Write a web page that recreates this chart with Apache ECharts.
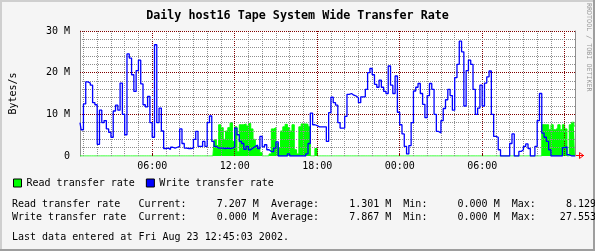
<!DOCTYPE html>
<html><head><meta charset="utf-8">
<script src="https://cdn.jsdelivr.net/npm/echarts@6/dist/echarts.min.js"></script>
<style>html,body{margin:0;padding:0;background:#f5f5f5;}#c{width:595px;height:251px;}</style>
</head><body><div id="c"></div>
<script>
const titleText = 'Daily host16 Tape System Wide Transfer Rate';
const startHour = 0.75;          // 00:45 on day 1
const stepHours = 1 / 6;         // 10 minute samples
const endHour = 36.75;           // 12:45 on day 2
const xTickHours = [6, 12, 18, 24, 30];
const xTickLabels = ['06:00', '12:00', '18:00', '00:00', '06:00'];
const yTickValues = [0, 10, 20, 30];
const yTickLabels = ['0', '10 M', '20 M', '30 M'];
const seriesNames = ['Read transfer rate', 'Write transfer rate'];
const seriesColors = ['#00ff00', '#0000ff'];

const readRate = [
  0,0,0,0,0,0,0,0,0,0, 0,0,0,0,0,0,0,0,0,0, 0,0,0,0,0,0,0,0,0,0,
  0,0,0,0,0,0,0,0,0,0, 0,0,0,0,0,0,0,0,0,0, 0,0,0,0,0,0,0,0,0,
  3.9,2.5,7.5,6.8,4.0,6.0,6.8,8.0,3.5,7.0,1.0,
  7.5,7.5,7.7,7.2,7.8,6.5,4.0,2.3,2.0,0.8,
  0,0,0,0.5,6.5,6.8,3.0,2.0,6.0,7.0,
  7.6,6.8,6.0,7.5,1.5,0.5,7.0,7.7,7.7,7.6,
  7.0,0,0,1.8,
  0,0,0,0,0,0,0,0,0,0, 0,0,0,0,0,0,0,0,0,0, 0,0,0,0,0,0,0,0,0,0,
  0,0,0,0,0,0,0,0,0,0, 0,0,0,0,0,0,0,0,0,0, 0,0,0,0,0,0,0,0,0,0,
  0,0,0,0,0,0,0,0,0,0, 0,0,0,0,0,0,0,0,0,0, 0,0,0,0,0,0,0,0,0,0,
  0,0,0,0,0,0,0,0,
  7.5,7.5,7.5,6.3,7.5,6.3,6.7,7.5,6.3,7.5,6.5,
  0,7.5,8.1,7.2
];

const writeRate = [
  8.0,6.3,12.5,17.8,17.5,17.0,12.8,12.3,2.8,11.0,
  8.0,8.5,6.5,5.7,4.5,10.8,12.2,11.0,17.5,10.0,
  5.1,24.5,23.5,19.5,15.5,20.5,23.0,17.3,12.3,11.8,
  14.3,8.0,4.5,26.7,8.0,11.5,6.0,1.8,1.9,1.6,
  2.1,1.9,2.1,2.3,6.5,3.0,1.9,1.8,1.8,1.9,
  4.0,5.9,2.3,2.3,3.5,2.3,8.0,9.6,3.5,2.3,
  1.9,1.9,1.9,1.8,1.9,1.8,1.9,2.1,6.7,5.1,
  3.5,3.0,1.6,2.3,1.5,1.9,2.3,2.6,1.8,4.7,
  2.2,2.7,1.5,1.1,1.0,1.9,3.4,0,0,0,
  0,0.5,0,0,0,0,0,0,0,0.5,
  3.0,10.3,7.5,7.3,7.0,7.0,7.0,7.0,3.5,10.4,
  14.1,12.8,12.2,8.0,6.7,6.7,9.5,14.8,15.0,14.6,
  14.4,14.0,12.8,14.2,14.2,16.0,20.0,21.0,19.5,17.2,
  16.5,18.2,16.5,15.5,15.0,21.6,17.0,15.0,19.2,10.5,
  7.5,5.3,2.3,0.5,2.5,8.0,15.6,16.5,17.4,15.0,
  12.4,9.2,14.5,17.4,16.0,10.0,5.9,5.5,8.5,11.4,
  13.5,16.0,14.5,11.0,18.8,22.0,27.55,25.0,12.0,20.5,
  23.0,22.0,16.0,10.0,11.5,17.0,12.0,17.5,19.0,20.4,
  10.0,4.7,4.5,1.5,0,0,0,0,3.0,5.3,
  0,0,1.1,1.5,2.3,2.9,1.8,0,0,2.3,
  8.5,15.0,5.5,4.5,3.5,1.5,0,0,0,0,
  0,2.0,2.2,0.3,0,0,0
];

const statCurrent = [7.207, 0.000];
const statAverage = [1.301, 7.867];
const statMin = [0.000, 0.000];
const statMax = [8.129, 27.553];
const lastUpdate = 'Last data entered at Fri Aug 23 12:45:03 2002.';
const credit = 'RRDTOOL / TOBI OETIKER';

const FONT = '"DejaVu Sans Mono", monospace';
const sampleHours = readRate.map((_, i) => startHour + i * stepHours);
const readData = readRate.map((v, i) => [sampleHours[i], v]);
const writeData = writeRate.map((v, i) => [sampleHours[i], v]);

function fmt(v) { return (v.toFixed(3) + ' M').padStart(12); }
const statRows = seriesNames.map((n, k) =>
  n.padEnd(21) + 'Current:' + fmt(statCurrent[k]) + '  Average:' + fmt(statAverage[k]) +
  '  Min:' + fmt(statMin[k]) + '  Max:' + fmt(statMax[k]));

const gridLines = [];
for (let h = Math.ceil(startHour); h <= Math.floor(endHour); h++) {
  const major = h % 6 === 0;
  gridLines.push({ xAxis: h, lineStyle: { color: major ? '#800000' : '#8f8f8f', type: [1, 1], width: 1 } });
}
for (let v = 2; v <= 30; v += 2) {
  const major = v % 10 === 0;
  gridLines.push({ yAxis: v, lineStyle: { color: major ? '#800000' : '#8f8f8f', type: [1, 1], width: 1 } });
}

const chart = echarts.init(document.getElementById('c'), null, { renderer: 'canvas' });
chart.setOption({
  backgroundColor: '#f5f5f5',
  animation: false,
  title: {
    text: titleText, left: 'center', top: 9, padding: 0,
    textStyle: { fontFamily: FONT, fontSize: 11.7, fontWeight: 'bold', color: '#000', lineHeight: 14 }
  },
  legend: {
    left: 13, top: 178, padding: 0, itemWidth: 8, itemHeight: 8, itemGap: 11, icon: 'rect',
    selectedMode: false,
    textStyle: { fontFamily: FONT, fontSize: 10, color: '#000' },
    data: seriesNames.map((n, k) => ({ name: n, itemStyle: { color: seriesColors[k], borderColor: '#000', borderWidth: 1 } }))
  },
  grid: { left: 75, top: 31, width: 500, height: 125, show: true, backgroundColor: '#ffffff', borderWidth: 0 },
  xAxis: [{
    type: 'value', min: startHour, max: endHour,
    axisLine: { show: false },
    axisTick: { show: false }, splitLine: { show: false },
    axisLabel: {
      customValues: xTickHours, margin: 5, fontFamily: FONT, fontSize: 10, color: '#000',
      formatter: v => xTickLabels[xTickHours.indexOf(Math.round(v))] || ''
    }
  }, {
    type: 'value', min: startHour, max: endHour, position: 'top',
    axisLine: { show: false }, axisLabel: { show: false }, splitLine: { show: false },
    axisTick: { show: true, customValues: [6, 12, 18, 24, 30, 36], length: 3, lineStyle: { color: '#800000', width: 1 } }
  }],
  yAxis: [{
    type: 'value', min: 0, max: 30, interval: 10,
    name: 'Bytes/s', nameLocation: 'middle', nameGap: 62, nameRotate: 90,
    nameTextStyle: { fontFamily: FONT, fontSize: 10, color: '#000' },
    axisLine: { show: true, lineStyle: { color: '#8f8f8f', width: 1 } },
    axisTick: { show: false }, splitLine: { show: false },
    axisLabel: {
      margin: 10, fontFamily: FONT, fontSize: 10, color: '#000',
      formatter: v => yTickLabels[yTickValues.indexOf(v)]
    }
  }, {
    type: 'value', min: 0, max: 30, position: 'right',
    axisLine: { show: true, lineStyle: { color: '#8f8f8f', width: 1 } },
    axisTick: { show: false }, axisLabel: { show: false }, splitLine: { show: false }
  }],
  series: [{
    name: seriesNames[0], type: 'line', data: readData, step: 'middle', showSymbol: false, z: 1,
    lineStyle: { color: seriesColors[0], width: 1 },
    itemStyle: { color: seriesColors[0] },
    areaStyle: { color: seriesColors[0], opacity: 1 },
    markLine: { silent: true, symbol: 'none', z: 2, label: { show: false }, animation: false, data: gridLines }
  }, {
    name: seriesNames[1], type: 'line', data: writeData, step: 'middle', showSymbol: false, z: 3,
    lineStyle: { color: seriesColors[1], width: 1.3 },
    itemStyle: { color: seriesColors[1] }
  }],
  graphic: [
    { type: 'rect', shape: { x: 0, y: 0, width: 595, height: 2 }, style: { fill: '#cfcfcf' } },
    { type: 'rect', shape: { x: 0, y: 0, width: 2, height: 251 }, style: { fill: '#cfcfcf' } },
    { type: 'rect', shape: { x: 0, y: 249, width: 595, height: 2 }, style: { fill: '#9e9e9e' } },
    { type: 'rect', shape: { x: 593, y: 0, width: 2, height: 251 }, style: { fill: '#9e9e9e' } },
    { type: 'polyline', shape: { points: [[575, 155.5], [584, 155.5]] }, style: { stroke: '#ff0000', lineWidth: 1 } },
    { type: 'polygon', shape: { points: [[579.5, 152.5], [583.5, 155.5], [579.5, 158.5]] }, style: { stroke: '#ff0000', fill: 'none', lineWidth: 1 } },
    { type: 'text', x: 589, y: 3, rotation: -Math.PI / 2,
      style: { text: credit, font: '6.7px ' + FONT, fill: '#999999', textAlign: 'left', textVerticalAlign: 'middle' } },
    { type: 'text', x: 12, y: 204, style: { text: statRows[0], font: '10px ' + FONT, fill: '#000', textVerticalAlign: 'middle' } },
    { type: 'text', x: 12, y: 217, style: { text: statRows[1], font: '10px ' + FONT, fill: '#000', textVerticalAlign: 'middle' } },
    { type: 'text', x: 12, y: 237, style: { text: lastUpdate, font: '10px ' + FONT, fill: '#000', textVerticalAlign: 'middle' } }
  ]
});
</script></body></html>
